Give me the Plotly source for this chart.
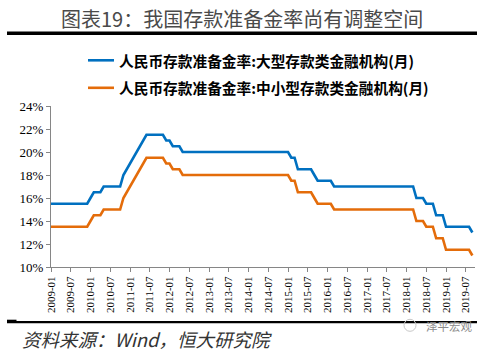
import plotly.graph_objects as go

# ---------------- data ----------------
months = [f"{y}-{m:02d}" for y in range(2009, 2020) for m in range(1, 13)][:129]

large_rrr = [
    15.5, 15.5, 15.5, 15.5, 15.5, 15.5, 15.5, 15.5, 15.5, 15.5, 15.5, 15.5,   # 2009
    16.0, 16.5, 16.5, 16.5, 17.0, 17.0, 17.0, 17.0, 17.0, 17.0, 18.0, 18.5,   # 2010
    19.0, 19.5, 20.0, 20.5, 21.0, 21.5, 21.5, 21.5, 21.5, 21.5, 21.5, 21.0,   # 2011
    21.0, 20.5, 20.5, 20.5, 20.0, 20.0, 20.0, 20.0, 20.0, 20.0, 20.0, 20.0,   # 2012
    20.0, 20.0, 20.0, 20.0, 20.0, 20.0, 20.0, 20.0, 20.0, 20.0, 20.0, 20.0,   # 2013
    20.0, 20.0, 20.0, 20.0, 20.0, 20.0, 20.0, 20.0, 20.0, 20.0, 20.0, 20.0,   # 2014
    20.0, 19.5, 19.5, 18.5, 18.5, 18.5, 18.5, 18.5, 18.0, 17.5, 17.5, 17.5,   # 2015
    17.5, 17.5, 17.0, 17.0, 17.0, 17.0, 17.0, 17.0, 17.0, 17.0, 17.0, 17.0,   # 2016
    17.0, 17.0, 17.0, 17.0, 17.0, 17.0, 17.0, 17.0, 17.0, 17.0, 17.0, 17.0,   # 2017
    17.0, 17.0, 17.0, 16.0, 16.0, 16.0, 15.5, 15.5, 15.5, 14.5, 14.5, 14.5,   # 2018
    13.5, 13.5, 13.5, 13.5, 13.5, 13.5, 13.5, 13.5, 13.0,                     # 2019
]

small_rrr = [
    13.5, 13.5, 13.5, 13.5, 13.5, 13.5, 13.5, 13.5, 13.5, 13.5, 13.5, 13.5,   # 2009
    14.0, 14.5, 14.5, 14.5, 15.0, 15.0, 15.0, 15.0, 15.0, 15.0, 16.0, 16.5,   # 2010
    17.0, 17.5, 18.0, 18.5, 19.0, 19.5, 19.5, 19.5, 19.5, 19.5, 19.5, 19.0,   # 2011
    19.0, 18.5, 18.5, 18.5, 18.0, 18.0, 18.0, 18.0, 18.0, 18.0, 18.0, 18.0,   # 2012
    18.0, 18.0, 18.0, 18.0, 18.0, 18.0, 18.0, 18.0, 18.0, 18.0, 18.0, 18.0,   # 2013
    18.0, 18.0, 18.0, 18.0, 18.0, 18.0, 18.0, 18.0, 18.0, 18.0, 18.0, 18.0,   # 2014
    18.0, 17.5, 17.5, 16.5, 16.5, 16.5, 16.5, 16.5, 16.0, 15.5, 15.5, 15.5,   # 2015
    15.5, 15.5, 15.0, 15.0, 15.0, 15.0, 15.0, 15.0, 15.0, 15.0, 15.0, 15.0,   # 2016
    15.0, 15.0, 15.0, 15.0, 15.0, 15.0, 15.0, 15.0, 15.0, 15.0, 15.0, 15.0,   # 2017
    15.0, 15.0, 15.0, 14.0, 14.0, 14.0, 13.5, 13.5, 13.5, 12.5, 12.5, 12.5,   # 2018
    11.5, 11.5, 11.5, 11.5, 11.5, 11.5, 11.5, 11.5, 11.0,                     # 2019
]

tick_labels = [
    "2009-01", "2009-07", "2010-01", "2010-07", "2011-01", "2011-07",
    "2012-01", "2012-07", "2013-01", "2013-07", "2014-01", "2014-07",
    "2015-01", "2015-07", "2016-01", "2016-07", "2017-01", "2017-07",
    "2018-01", "2018-07", "2019-01", "2019-07",
]

series_names = [
    "人民币存款准备金率:大型存款类金融机构(月)",
    "人民币存款准备金率:中小型存款类金融机构(月)",
]
title_text = "图表19：我国存款准备金率尚有调整空间"
source_text = "资料来源：Wind，恒大研究院"
watermark_text = "泽平宏观"

# ---------------- layout constants ----------------
W, H = 491, 354
L, R, T, B = 51, 475, 105.7, 266.7
BLUE = "#0070C0"
ORANGE = "#E46C0A"
AXIS = "#868686"
CJK = "Noto Sans CJK SC"
SERIF = "Liberation Serif, Times New Roman, serif"


def px(x):
    return (x - L) / (R - L)


def py(y):
    return (B - y) / (B - T)


fig = go.Figure()
for name, vals, col in [(series_names[0], large_rrr, BLUE), (series_names[1], small_rrr, ORANGE)]:
    fig.add_trace(go.Scatter(
        x=months, y=vals, mode="lines", name=name,
        line=dict(color=col, width=2.6), showlegend=False,
        hoverinfo="skip",
    ))

shapes = [
    # title rule
    dict(type="line", xref="paper", yref="paper", x0=px(7), x1=px(477), y0=py(33), y1=py(33),
         line=dict(color="black", width=3.5)),
    # footer rule
    dict(type="line", xref="paper", yref="paper", x0=px(7), x1=px(477), y0=py(321.8), y1=py(321.8),
         line=dict(color="black", width=2.2)),
    dict(type="line", xref="paper", yref="paper", x0=px(7), x1=px(16.5), y0=py(320.5), y1=py(320.5),
         line=dict(color="black", width=2.2)),
    # legend swatches
    dict(type="line", xref="paper", yref="paper", x0=px(88), x1=px(114), y0=py(60), y1=py(60),
         line=dict(color=BLUE, width=2.6)),
    dict(type="line", xref="paper", yref="paper", x0=px(88), x1=px(114), y0=py(87.5), y1=py(87.5),
         line=dict(color=ORANGE, width=2.6)),
    # watermark icon
    dict(type="circle", xref="paper", yref="paper", x0=px(404), x1=px(416), y0=py(319), y1=py(331),
         line=dict(color="#c8c8c8", width=1)),
]

annotations = [
    dict(text=title_text, xref="paper", yref="paper", x=px(242), y=py(18.5),
         xanchor="center", yanchor="middle", showarrow=False,
         font=dict(family=CJK, size=20, color="#4a4a4a")),
    dict(text=series_names[0], xref="paper", yref="paper", x=px(117), y=py(60),
         xanchor="left", yanchor="middle", showarrow=False,
         font=dict(family=CJK, size=14.7, color="black", weight="bold")),
    dict(text=series_names[1], xref="paper", yref="paper", x=px(117), y=py(87.5),
         xanchor="left", yanchor="middle", showarrow=False,
         font=dict(family=CJK, size=14.7, color="black", weight="bold")),
    dict(text=source_text, xref="paper", yref="paper", x=px(20), y=py(339),
         xanchor="left", yanchor="middle", showarrow=False,
         font=dict(family=CJK, size=18.5, color="#333333", style="italic")),
    dict(text=watermark_text, xref="paper", yref="paper", x=px(424), y=py(325.5),
         xanchor="left", yanchor="middle", showarrow=False,
         font=dict(family=CJK, size=11.5, color="#8a8a8a")),
]

fig.update_layout(
    width=W, height=H,
    margin=dict(l=L, r=W - R, t=T, b=H - B, pad=0),
    paper_bgcolor="white", plot_bgcolor="white",
    showlegend=False,
    shapes=shapes, annotations=annotations,
    xaxis=dict(
        type="category", range=[0, 128.8], autorange=False,
        tickmode="array", tickvals=tick_labels, ticktext=tick_labels,
        tickangle=-90, ticks="outside", ticklen=4, tickcolor=AXIS, tickwidth=1,
        showline=True, linecolor=AXIS, linewidth=1, showgrid=False, zeroline=False,
        tickfont=dict(family=SERIF, size=11, color="black"),
    ),
    yaxis=dict(
        range=[10, 24], autorange=False, dtick=2, tick0=10,
        ticksuffix="%", ticks="outside", ticklen=4, tickcolor=AXIS, tickwidth=1,
        showline=True, linecolor=AXIS, linewidth=1, showgrid=False, zeroline=False,
        tickfont=dict(family=SERIF, size=13, color="black"),
    ),
)

fig.write_html("out.html")
